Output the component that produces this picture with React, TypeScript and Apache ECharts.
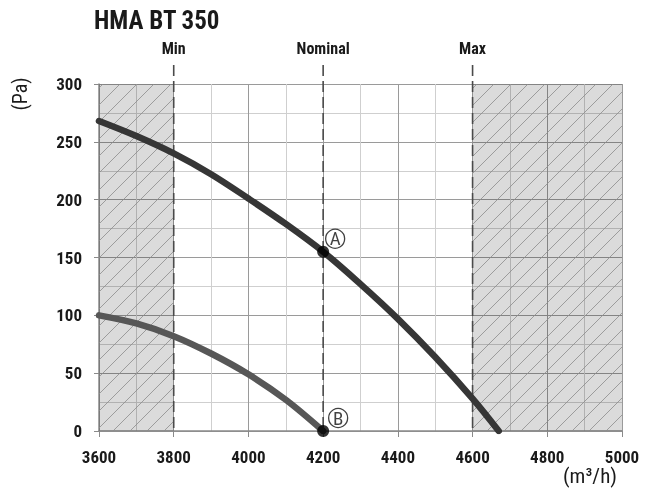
import React, { useEffect, useRef } from "react";
import * as echarts from "echarts";

const title = "HMA BT 350";
const xTicks = [3600, 3800, 4000, 4200, 4400, 4600, 4800, 5000];
const yTicks = [0, 50, 100, 150, 200, 250, 300];
const curveA: [number, number][] = [
  [3600, 268], [3700, 255], [3800, 240], [3900, 222], [4000, 201], [4100, 179],
  [4200, 155], [4300, 127], [4400, 97], [4500, 64], [4600, 28], [4670, 0],
];
const curveB: [number, number][] = [
  [3600, 100], [3700, 93], [3800, 82], [3900, 67], [4000, 49], [4100, 27], [4200, 0],
];
const hatchRegions: [number, number][] = [[3600, 3800], [4600, 5000]];
const refFlows = [3800, 4200, 4600];
const refLabels = ["Min", "Nominal", "Max"];
const points: [number, number][] = [[4200, 155], [4200, 0]];
const pointLetters = ["A", "B"];

const FONT = "'Liberation Sans Narrow', 'Arial Narrow', 'Roboto Condensed', 'DejaVu Sans Condensed', 'Liberation Sans', sans-serif";

export default function App() {
  const ref = useRef<HTMLDivElement>(null);
  useEffect(() => {
    const chart = echarts.init(ref.current!, null, { renderer: "svg" });
    const xMin = xTicks[0], xMax = xTicks[xTicks.length - 1];
    const yMin = yTicks[0], yMax = yTicks[yTicks.length - 1];
    chart.setOption({
      animation: false,
      grid: { left: 99, right: 28, top: 84, bottom: 62 },
      xAxis: {
        type: "value", min: xMin, max: xMax, interval: 200,
        axisLine: { show: true, onZero: false, lineStyle: { color: "#8a8a8a", width: 1.5 } },
        axisTick: { show: true, length: 6, lineStyle: { color: "#8a8a8a" } },
        axisLabel: { margin: 17, fontSize: 17, fontWeight: "bold", color: "#1a1a1a", fontFamily: FONT, formatter: (v: number) => String(v) },
        splitLine: { show: true, lineStyle: { color: "#9a9a9a", width: 1 } },
        minorTick: { show: false, splitNumber: 2 },
        minorSplitLine: { show: true, lineStyle: { color: "#cfcfcf", width: 1 } },
      },
      yAxis: {
        type: "value", min: yMin, max: yMax, interval: 50,
        axisLine: { show: true, lineStyle: { color: "#8a8a8a", width: 1.5 } },
        axisTick: { show: true, length: 5, lineStyle: { color: "#8a8a8a" } },
        axisLabel: { margin: 17, fontSize: 17, fontWeight: "bold", color: "#1a1a1a", fontFamily: FONT, formatter: (v: number) => String(v) },
        splitLine: { show: true, lineStyle: { color: "#9a9a9a", width: 1 } },
        minorTick: { show: false, splitNumber: 2 },
        minorSplitLine: { show: true, lineStyle: { color: "#cfcfcf", width: 1 } },
      },
      graphic: [
        { type: "text", left: 94, top: 8, style: { text: title, font: `bold 25px ${FONT}`, fill: "#1a1a1a" } },
        { type: "text", x: 20, y: 94, rotation: Math.PI / 2, style: { text: "(Pa)", font: `20px ${FONT}`, fill: "#1a1a1a", align: "center", verticalAlign: "middle" } },
        { type: "text", x: 590, y: 476, style: { text: "(m³/h)", font: `21px ${FONT}`, fill: "#1a1a1a", align: "center", verticalAlign: "middle" } },
      ],
      series: [
        {
          type: "custom",
          data: hatchRegions,
          silent: true,
          z: 1,
          renderItem: (params: any, api: any) => {
            const p0 = api.coord([api.value(0), yMax]);
            const p1 = api.coord([api.value(1), yMin]);
            const L = p0[0], R = p1[0], T = p0[1], B = p1[1];
            const children: any[] = [
              { type: "rect", shape: { x: L, y: T, width: R - L, height: B - T }, style: { fill: "rgba(0,0,0,0.14)" } },
            ];
            const s = 17;
            const cStart = Math.floor((L + T) / s) * s;
            for (let c = cStart; c <= R + B + s; c += s) {
              const lo = Math.max(L, c - B);
              const hi = Math.min(R, c - T);
              if (lo < hi) {
                children.push({
                  type: "line",
                  shape: { x1: lo, y1: c - lo, x2: hi, y2: c - hi },
                  style: { stroke: "#8c8c8c", lineWidth: 0.8 },
                });
              }
            }
            return { type: "group", children };
          },
        },
        {
          type: "custom",
          data: refFlows.map((f, i) => [f, i]),
          silent: true,
          z: 3,
          renderItem: (params: any, api: any) => {
            const top = api.coord([api.value(0), yMax]);
            const bot = api.coord([api.value(0), yMin]);
            const label = refLabels[api.value(1)];
            return {
              type: "group",
              children: [
                { type: "line", shape: { x1: top[0], y1: top[1] - 19, x2: bot[0], y2: bot[1] }, style: { stroke: "#4a4a4a", lineWidth: 1.6, lineDash: [11, 5] } },
                { type: "text", x: top[0], y: top[1] - 36, style: { text: label, font: `bold 16px ${FONT}`, fill: "#1a1a1a", align: "center", verticalAlign: "middle" } },
              ],
            };
          },
        },
        {
          type: "line", data: curveA, smooth: 0.35, showSymbol: false, symbol: "none", z: 4,
          lineStyle: { color: "#363636", width: 6.5, cap: "round" },
        },
        {
          type: "line", data: curveB, smooth: 0.35, showSymbol: false, symbol: "none", z: 4,
          lineStyle: { color: "#575757", width: 6.5, cap: "round" },
        },
        {
          type: "scatter", data: points, symbol: "circle", symbolSize: 12, z: 5,
          itemStyle: { color: "#000" },
        },
        {
          type: "scatter", z: 6,
          data: points.map((p, i) => ({
            value: p,
            symbolOffset: i === 0 ? [12, -13] : [15, -13],
            label: { show: true, position: "inside", formatter: pointLetters[i], fontSize: 19, color: "#111", fontFamily: "'Liberation Sans Narrow', 'Roboto Condensed', 'Liberation Sans', sans-serif" },
          })),
          symbol: "circle", symbolSize: 19,
          itemStyle: { color: "#fff", borderColor: "#111", borderWidth: 1.3 },
        },
      ],
    });
    return () => chart.dispose();
  }, []);
  return <div ref={ref} style={{ position: "fixed", left: 0, top: 0, width: 650, height: 493 }} />;
}
